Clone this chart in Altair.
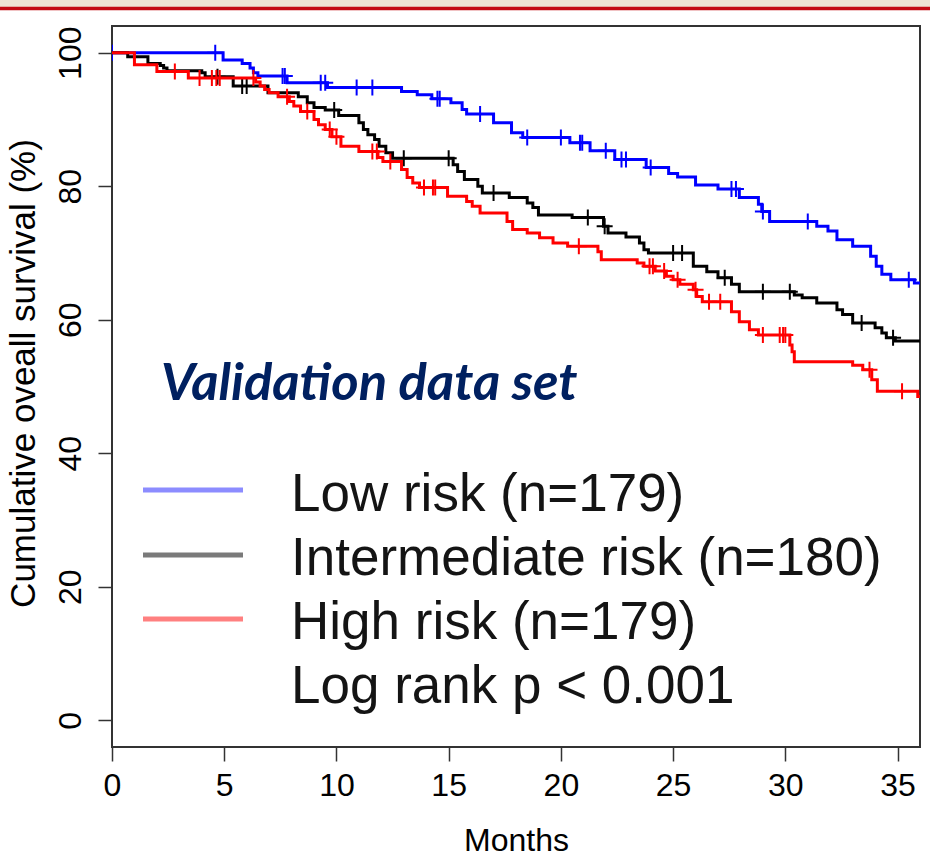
import altair as alt
import numpy as np
import pandas as pd

# ---------------- data ----------------
X_MAX = 36.0

# Low risk (blue): event times (months) and survival (%) after each drop
low_t = [4.95, 5.8, 6.15, 6.3, 6.5, 7.8, 9.6, 12.9, 13.6, 14.25, 15.1, 15.6, 15.8, 17.0, 17.8,
         18.3, 20.4, 21.3, 22.4, 23.8, 24.8, 25.2, 26.0, 27.0, 27.95, 28.8, 28.95, 29.3, 31.4, 31.9,
         32.3, 33.0, 33.8, 34.05, 34.3, 34.7, 35.75]
low_s = [98.9, 98.4, 97.7, 97.0, 96.5, 95.5, 94.8, 94.2, 93.7, 93.1, 92.5, 91.5, 90.8, 89.5, 88.0,
         87.3, 86.5, 85.3, 84.0, 82.8, 81.9, 81.4, 80.2, 79.6, 78.3, 77.3, 76.2, 74.7, 74.0, 73.3,
         72.0, 71.0, 69.5, 68.0, 66.8, 66.0, 65.5]
low_c = [0.0, 4.6, 7.6, 7.7, 9.3, 9.5, 10.9, 11.6, 14.5, 14.6, 16.4, 18.5, 20.0, 20.85, 20.95,
         22.0, 22.7, 22.9, 24.0, 27.6, 27.8, 29.0, 31.0, 35.5]

# Intermediate risk (black)
int_t = [0.7, 1.6, 2.15, 2.3, 2.45, 4.0, 4.15, 5.4, 6.95, 8.3, 8.7, 9.0, 9.5, 10.1, 11.0,
         11.2, 11.4, 11.7, 11.9, 12.2, 12.5, 15.2, 15.4, 15.7, 16.3, 16.5, 17.7, 18.5, 18.75, 19.0,
         20.5, 21.9, 22.1, 22.9, 23.5, 23.7, 23.9, 25.9, 26.5, 27.0, 27.6, 27.95, 30.4, 30.75, 31.4,
         32.3, 32.55, 33.0, 34.0, 34.3, 34.5, 34.9]
int_s = [99.4, 98.4, 98.1, 97.7, 97.3, 97.0, 96.4, 95.0, 94.0, 93.4, 92.5, 91.8, 91.4, 90.6, 89.5,
         88.5, 87.7, 87.0, 86.0, 85.0, 84.2, 83.2, 82.2, 81.0, 80.0, 79.0, 78.3, 77.5, 76.8, 75.7,
         75.3, 74.0, 73.0, 72.4, 71.5, 70.5, 70.0, 68.0, 67.2, 66.3, 65.3, 64.2, 63.7, 63.3, 62.5,
         61.5, 60.8, 59.5, 58.8, 58.0, 57.3, 56.8]
int_c = [4.7, 5.8, 6.0, 9.9, 13.0, 15.0, 17.0, 21.2, 21.95, 25.0, 25.4, 27.3, 29.0, 30.2, 33.4, 34.8]

# High risk (red)
high_t = [1.0, 2.0, 3.4, 6.4, 6.6, 6.8, 7.0, 7.4, 7.9, 8.1, 8.4, 9.0, 9.2, 9.5, 9.8,
          10.2, 11.0, 11.85, 12.07, 12.9, 13.15, 13.4, 13.7, 14.95, 15.8, 16.05, 16.4, 17.6, 17.85, 18.5,
          19.05, 19.65, 20.3, 21.65, 21.8, 23.4, 23.7, 24.2, 24.7, 25.0, 25.3, 25.9, 26.05, 26.3, 27.6,
          27.95, 28.4, 28.8, 30.2, 30.3, 30.4, 33.0, 33.45, 33.85, 34.1, 35.9]
high_s = [98.2, 97.2, 96.2, 95.6, 95.0, 94.5, 94.0, 93.4, 92.7, 92.0, 91.2, 90.0, 89.2, 88.5, 87.4,
          86.0, 85.2, 84.3, 83.7, 82.5, 81.3, 80.5, 79.8, 78.5, 77.7, 77.0, 76.0, 74.7, 73.5, 73.0,
          72.3, 71.5, 71.0, 70.2, 69.0, 68.5, 68.0, 67.3, 66.5, 66.0, 65.3, 64.5, 63.5, 62.7, 61.2,
          59.7, 58.5, 57.7, 56.2, 55.2, 53.7, 53.2, 52.5, 51.0, 49.3, 48.5]
high_c = [2.8, 3.9, 4.45, 4.65, 4.8, 6.3, 7.8, 8.7, 9.7, 10.0, 11.6, 11.8, 12.4, 13.9, 14.3, 14.4,
          20.8, 23.95, 24.1, 24.6, 25.2, 26.0, 26.6, 27.1, 29.0, 29.75, 29.9, 30.0, 33.75, 35.2]

x_ticks = [0, 5, 10, 15, 20, 25, 30, 35]
y_ticks = [0, 20, 40, 60, 80, 100]
legend_labels = ["Low risk (n=179)", "Intermediate risk (n=180)", "High risk (n=179)"]
pvalue_label = "Log rank p < 0.001"
panel_label = "Validation data set"

# ---------------- styling / layout ----------------
W, H = 808, 721
FONT = "Liberation Sans"
CROSS = "M-1,0L1,0M0,-1L0,1"

x_enc = alt.X(
    "t:Q",
    scale=alt.Scale(domain=[0, X_MAX], nice=False, zero=False),
    axis=alt.Axis(
        values=x_ticks, title="Months", grid=False, domain=False,
        tickSize=14, tickWidth=1.5, tickColor="#333",
        labelFont=FONT, labelFontSize=32, labelColor="#000", labelPadding=9,
        labelFlush=False, labelOverlap=False,
        titleFont=FONT, titleFontSize=32, titleFontWeight="normal", titleColor="#000",
        titleBaseline="alphabetic", titleY=103,
    ),
)
y_enc = alt.Y(
    "s:Q",
    scale=alt.Scale(domain=[-4, 104], nice=False, zero=False),
    axis=alt.Axis(
        values=y_ticks, title="Cumulative oveall survival (%)", grid=False, domain=False,
        tickSize=14, tickWidth=1.5, tickColor="#333",
        labelFont=FONT, labelFontSize=32, labelColor="#000",
        labelAngle=270, labelAlign="center", labelBaseline="alphabetic", labelPadding=18,
        labelFlush=False, labelOverlap=False,
        titleFont=FONT, titleFontSize=35, titleFontWeight="normal", titleColor="#000",
        titleAngle=270, titleAlign="center", titleBaseline="alphabetic",
        titleX=-78, titleY=347,
    ),
)


def group_layers(times, surv, cens, color):
    t = [0.0] + list(times) + [X_MAX]
    s = [100.0] + list(surv) + [surv[-1]]
    line_df = pd.DataFrame({"t": t, "s": s})
    idx = np.searchsorted(np.array(times), np.array(cens), side="right") - 1
    cs = [100.0 if i < 0 else surv[i] for i in idx]
    cens_df = pd.DataFrame({"t": cens, "s": cs})
    line = alt.Chart(line_df).mark_line(
        interpolate="step-after", color=color, strokeWidth=3, clip=True
    ).encode(x=x_enc, y=y_enc, order="t:Q")
    pts = alt.Chart(cens_df).mark_point(
        shape=CROSS, size=256, filled=False, color=color, strokeWidth=2, opacity=1, clip=True
    ).encode(x=x_enc, y=y_enc)
    return [line, pts]


layers = []
layers += group_layers(low_t, low_s, low_c, "#0000FF")
layers += group_layers(int_t, int_s, int_c, "#000000")
layers += group_layers(high_t, high_s, high_c, "#FF0000")

one = pd.DataFrame({"a": [0]})

# decorative band at the top of the slide
band = alt.Chart(one).mark_rect(color="#EFE5D3").encode(
    x=alt.value(-112), x2=alt.value(818), y=alt.value(-26), y2=alt.value(-19))
redline = alt.Chart(one).mark_rule(color="#C40C12", strokeWidth=3.5).encode(
    x=alt.value(-112), x2=alt.value(818), y=alt.value(-17.5))

# panel label
panel = alt.Chart(one).mark_text(
    align="left", baseline="alphabetic", font="Lato", fontSize=52.5,
    fontStyle="italic", fontWeight="bold", color="#002060"
).encode(x=alt.value(49), y=alt.value(374), text=alt.value(panel_label))

# manual legend
leg_colors = ["#8C8CFF", "#7A7A7A", "#FF8080"]
leg_line_y = [464, 529, 593]
leg_text_y = [485, 549, 613, 677]
legend_layers = []
for lab, col, ly, ty in zip(legend_labels, leg_colors, leg_line_y, leg_text_y):
    legend_layers.append(alt.Chart(one).mark_rule(color=col, strokeWidth=5).encode(
        x=alt.value(31), x2=alt.value(131), y=alt.value(ly)))
    legend_layers.append(alt.Chart(one).mark_text(
        align="left", baseline="alphabetic", font=FONT, fontSize=53, color="#141414"
    ).encode(x=alt.value(179), y=alt.value(ty), text=alt.value(lab)))
legend_layers.append(alt.Chart(one).mark_text(
    align="left", baseline="alphabetic", font=FONT, fontSize=53, color="#141414"
).encode(x=alt.value(179), y=alt.value(leg_text_y[3]), text=alt.value(pvalue_label)))

chart = alt.layer(band, redline, *layers, panel, *legend_layers).properties(
    width=W, height=H,
    autosize=alt.AutoSizeParams(type="none"),
    padding={"left": 112, "top": 26, "right": 10, "bottom": 112},
    background="white",
).configure_view(stroke="#333", strokeWidth=2)

chart.save("out.html", embed_options={"renderer": "svg", "actions": False})
